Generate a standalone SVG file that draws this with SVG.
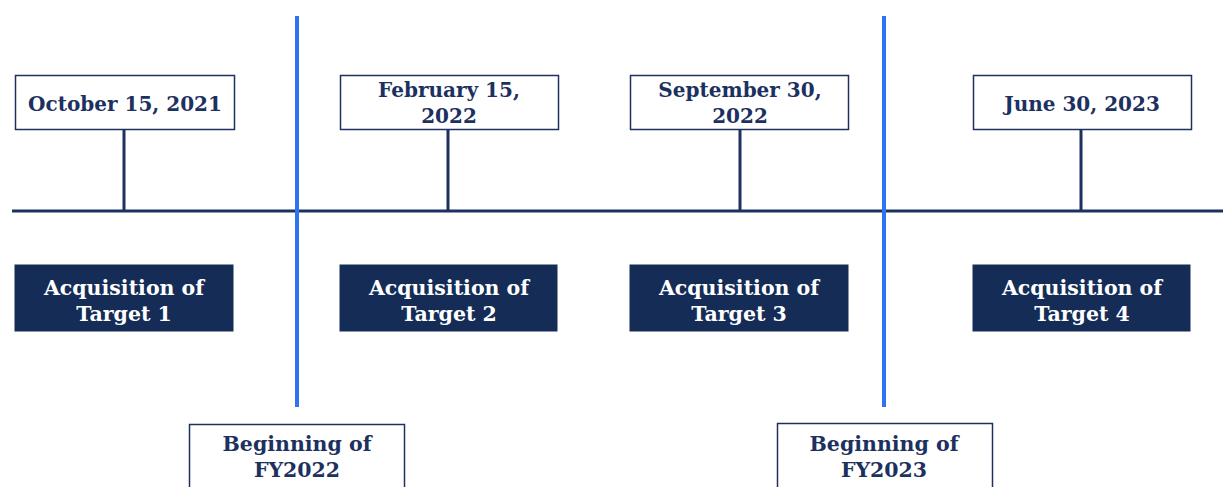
<svg xmlns="http://www.w3.org/2000/svg" width="1223" height="487" viewBox="0 0 1223 487">
<style>
.bg{fill:#ffffff}
.obox{fill:#ffffff;stroke:#1c3160;stroke-width:1.5}
.fbox{fill:#152c57;stroke:#152c57;stroke-width:1}
.t{font-family:"DejaVu Serif","Liberation Serif",serif;font-weight:bold;font-size:20.5px;text-anchor:middle;fill:#1c3160}
.d{font-size:20px}
.w{fill:#ffffff}
.ln{stroke:#1c3160;stroke-width:3;fill:none}
.bl{stroke:#2f72f3;stroke-width:4;fill:none}
</style>
<rect class="bg" x="0" y="0" width="1223" height="487"/>
<g id="connectors">
<line class="ln" x1="12" y1="211" x2="1223" y2="211"/>
<line class="ln" x1="124" y1="130" x2="124" y2="211"/>
<line class="ln" x1="448" y1="130" x2="448" y2="211"/>
<line class="ln" x1="740" y1="130" x2="740" y2="211"/>
<line class="ln" x1="1081" y1="130" x2="1081" y2="211"/>
<line class="bl" x1="297" y1="16" x2="297" y2="407"/>
<line class="bl" x1="884" y1="16" x2="884" y2="407"/>
</g>
<g id="date1"><rect class="obox" x="15.5" y="75.5" width="219" height="54"/><text class="t d" x="125" y="111">October 15, 2021</text></g>
<g id="date2"><rect class="obox" x="340.5" y="75.5" width="218" height="54"/><text class="t d" x="449" y="97">February 15,</text><text class="t d" x="449" y="123">2022</text></g>
<g id="date3"><rect class="obox" x="630.5" y="75.5" width="218" height="54"/><text class="t d" x="740" y="97">September 30,</text><text class="t d" x="740" y="123">2022</text></g>
<g id="date4"><rect class="obox" x="973.5" y="75.5" width="218" height="54"/><text class="t d" x="1082" y="111">June 30, 2023</text></g>
<g id="acq1"><rect class="fbox" x="15" y="265" width="218" height="66"/><text class="t w" x="124" y="295">Acquisition of</text><text class="t w" x="124" y="321">Target 1</text></g>
<g id="acq2"><rect class="fbox" x="340" y="265" width="217" height="66"/><text class="t w" x="449" y="295">Acquisition of</text><text class="t w" x="449" y="321">Target 2</text></g>
<g id="acq3"><rect class="fbox" x="630" y="265" width="218" height="66"/><text class="t w" x="739" y="295">Acquisition of</text><text class="t w" x="739" y="321">Target 3</text></g>
<g id="acq4"><rect class="fbox" x="973" y="265" width="217" height="66"/><text class="t w" x="1082" y="295">Acquisition of</text><text class="t w" x="1082" y="321">Target 4</text></g>
<g id="fy2022"><rect class="obox" x="189.5" y="424.5" width="215" height="70"/><text class="t" x="297" y="451">Beginning of</text><text class="t" x="297" y="477">FY2022</text></g>
<g id="fy2023"><rect class="obox" x="777.5" y="423.5" width="215" height="70"/><text class="t" x="884" y="451">Beginning of</text><text class="t" x="884" y="477">FY2023</text></g>
</svg>
